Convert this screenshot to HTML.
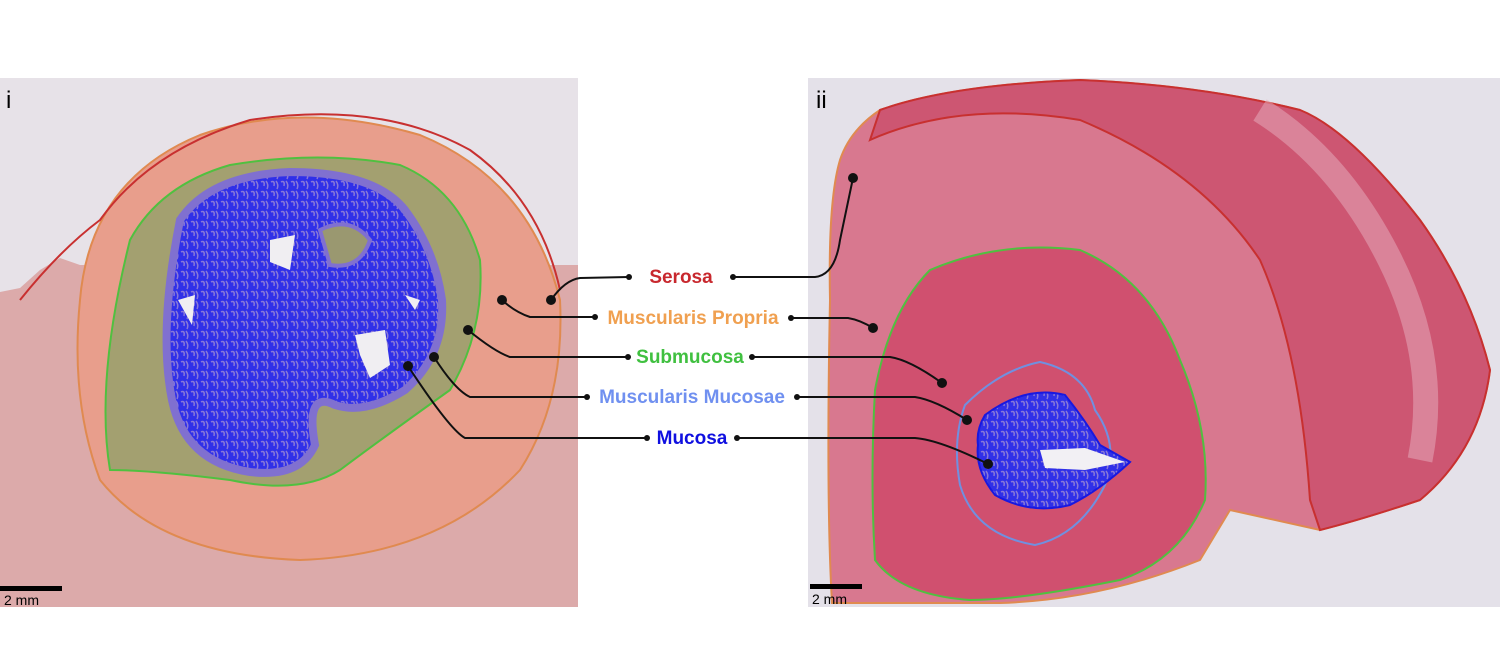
<!DOCTYPE html>
<html><head><meta charset="utf-8"><style>
html,body{margin:0;padding:0;background:#fff;}
svg{display:block;}
text{font-family:"Liberation Sans",sans-serif;}
</style></head><body>
<svg width="1500" height="667" viewBox="0 0 1500 667" xmlns="http://www.w3.org/2000/svg">
<defs>
<pattern id="glands" width="10" height="10" patternUnits="userSpaceOnUse">
<rect width="10" height="10" fill="#3030e8"/>
<path d="M1 2 Q5 0 4 6 M6 1 Q9 5 7 9" stroke="#8878d8" stroke-width="1.5" fill="none"/>
</pattern>
</defs>
<!-- LEFT PANEL -->
<rect x="0" y="78" width="578" height="529" fill="#e7e2e8"/>
<path d="M0 292 L20 288 L40 270 L60 258 L80 265 L578 265 L578 607 L0 607 Z" fill="#dcaaaa"/>
<path d="M80 300 Q90 180 200 135 Q300 100 420 135 Q530 180 560 300 Q565 400 520 470 Q440 555 300 560 Q160 555 100 480 Q70 400 80 300 Z" fill="#e89e8c" stroke="#e08a50" stroke-width="2"/>
<path d="M20 300 Q60 250 100 220 Q150 150 250 120 Q380 100 470 150 Q540 200 560 290" fill="none" stroke="#c83030" stroke-width="2"/>
<path d="M130 240 Q160 185 230 165 Q320 150 400 165 Q460 190 480 260 Q485 330 450 390 Q380 440 340 470 Q300 495 230 480 Q150 470 110 470 Q95 380 130 240 Z" fill="#a3a070" stroke="#50c040" stroke-width="2"/>
<path d="M180 220 Q210 175 290 172 Q375 172 405 210 Q435 250 442 300 Q445 355 405 390 Q365 415 335 405 Q305 390 315 445 Q300 478 250 472 Q185 462 172 400 Q158 330 180 220 Z" fill="url(#glands)" stroke="#8070d0" stroke-width="8"/>
<path d="M320 230 Q350 215 370 240 Q360 270 330 265 Z" fill="#9a9870" stroke="#8070d0" stroke-width="4"/>
<path d="M355 335 L385 330 L390 365 L370 378 L360 355 Z" fill="#f0eef2"/>
<path d="M270 240 L295 235 L290 270 L270 262 Z" fill="#f0eef2"/>
<path d="M178 300 L195 295 L192 325 Z" fill="#f0eef2"/>
<path d="M405 295 L420 300 L415 310 Z" fill="#f0eef2"/>
<rect x="0" y="586" width="62" height="5" fill="#000"/>
<text x="4" y="605" font-size="14" fill="#000">2 mm</text>
<text x="6" y="108" font-size="24" fill="#000">i</text>
<!-- RIGHT PANEL -->
<rect x="808" y="78" width="692" height="529" fill="#e4e1e9"/>
<path d="M880 110 Q950 85 1080 80 Q1200 85 1300 110 Q1350 130 1420 220 Q1470 290 1490 370 Q1480 450 1420 500 Q1360 520 1320 530 L1230 510 L1200 560 Q1100 600 1000 603 L832 603 Q826 500 830 300 Q828 200 840 160 Q850 130 880 110 Z" fill="#d8788f" stroke="#e08a50" stroke-width="2"/>
<path d="M880 110 Q950 85 1080 80 Q1200 85 1300 110 Q1350 130 1420 220 Q1470 290 1490 370 Q1480 450 1420 500 Q1360 520 1320 530 L1310 500 Q1300 350 1260 260 Q1200 170 1080 120 Q960 100 870 140 Z" fill="#cd5672" stroke="#c83030" stroke-width="2"/>
<path d="M1260 110 Q1340 160 1390 260 Q1440 360 1420 460" fill="none" stroke="#e8b0c0" stroke-width="25" opacity="0.5"/>
<path d="M930 270 Q1000 240 1080 250 Q1150 280 1180 360 Q1210 430 1205 500 Q1180 560 1120 580 Q1020 600 970 600 Q900 595 875 560 Q870 480 875 390 Q890 310 930 270 Z" fill="#d0506f" stroke="#50c040" stroke-width="2"/>
<path d="M965 405 Q1000 370 1040 362 Q1085 372 1095 410 Q1120 445 1105 485 Q1080 535 1035 545 Q975 535 960 485 Q952 440 965 405 Z" fill="none" stroke="#7090e0" stroke-width="2"/>
<path d="M985 415 Q1025 385 1065 395 Q1085 420 1100 445 L1130 462 Q1100 490 1070 505 Q1030 515 995 495 Q975 470 978 445 Q976 430 985 415 Z" fill="url(#glands)" stroke="#1818e0" stroke-width="2"/>
<path d="M1040 450 L1085 448 L1125 462 L1085 470 L1045 468 Z" fill="#f2f0f4"/>
<rect x="810" y="584" width="52" height="5" fill="#000"/>
<text x="812" y="604" font-size="14" fill="#000">2 mm</text>
<text x="816" y="108" font-size="24" fill="#000">ii</text>
<!-- CONNECTORS -->
<g stroke="#111" stroke-width="2" fill="none">
<path d="M629 277 L580 278 Q565 280 551 300"/>
<path d="M733 277 L815 277 Q835 275 840 240 L853 178"/>
<path d="M595 317 L530 317 Q515 312 502 300"/>
<path d="M791 318 L848 318 Q860 320 873 328"/>
<path d="M628 357 L510 357 Q495 352 468 330"/>
<path d="M752 357 L890 357 Q910 360 942 383"/>
<path d="M587 397 L470 397 Q455 390 434 357"/>
<path d="M797 397 L915 397 Q935 400 967 420"/>
<path d="M647 438 L465 438 Q450 430 408 366"/>
<path d="M737 438 L915 438 Q940 440 988 464"/>
</g>
<g fill="#111">
<circle cx="629" cy="277" r="3"/><circle cx="551" cy="300" r="5"/>
<circle cx="733" cy="277" r="3"/><circle cx="853" cy="178" r="5"/>
<circle cx="595" cy="317" r="3"/><circle cx="502" cy="300" r="5"/>
<circle cx="791" cy="318" r="3"/><circle cx="873" cy="328" r="5"/>
<circle cx="628" cy="357" r="3"/><circle cx="468" cy="330" r="5"/>
<circle cx="752" cy="357" r="3"/><circle cx="942" cy="383" r="5"/>
<circle cx="587" cy="397" r="3"/><circle cx="434" cy="357" r="5"/>
<circle cx="797" cy="397" r="3"/><circle cx="967" cy="420" r="5"/>
<circle cx="647" cy="438" r="3"/><circle cx="408" cy="366" r="5"/>
<circle cx="737" cy="438" r="3"/><circle cx="988" cy="464" r="5"/>
</g>
<g font-size="19" font-weight="bold" text-anchor="middle">
<text x="681" y="283" fill="#c8282e">Serosa</text>
<text x="693" y="324" fill="#f0a050">Muscularis Propria</text>
<text x="690" y="363" fill="#40c040">Submucosa</text>
<text x="692" y="403" fill="#7090f0">Muscularis Mucosae</text>
<text x="692" y="444" fill="#1010e0">Mucosa</text>
</g>
</svg>
</body></html>
